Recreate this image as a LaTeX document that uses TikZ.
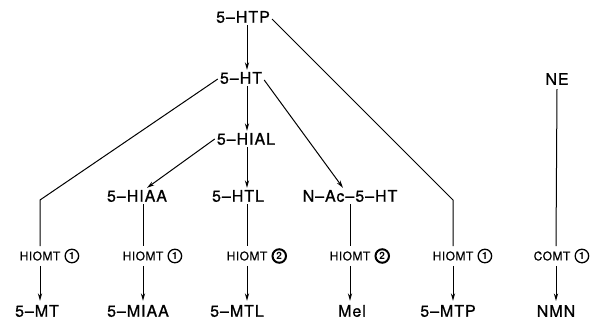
\documentclass[tikz,border=0pt]{standalone}
\usepackage{fontspec}
\setmainfont{TeX Gyre Heros}[LetterSpace=6,FakeBold=0.8]
\newfontfamily\labfont{TeX Gyre Heros}[LetterSpace=4,FakeBold=0.6]
\newfontfamily\numfont{TeX Gyre Heros}
\usetikzlibrary{arrows.meta}
\begin{document}
\begin{tikzpicture}[x=1pt,y=-1pt,
  chem/.style={font=\fontsize{16}{18}\selectfont, inner sep=2pt},
  chemb/.style={font=\fontsize{16}{18}\selectfont, inner sep=4pt},
  enz/.style={font=\labfont\fontsize{12}{14}\selectfont, inner sep=5pt},
  num/.style={circle, draw, line width=1.3pt, minimum size=13.5pt, inner sep=0pt, font=\numfont\fontsize{10}{10}\selectfont\bfseries},
  numb/.style={num, line width=2pt},
  conn/.style={line width=1pt},
  arr/.style={conn, -{Stealth[length=7.5pt,width=4.2pt]}}]
\useasboundingbox (0,0) rectangle (598,325);
% upper metabolites
\node[chem] (htp) at (243,17) {5–HTP};
\node[chem] (ht) at (241,78) {5–HT};
\node[chem] (hial) at (246,139) {5–HIAL};
\node[chem] (hiaa) at (137,196) {5–HIAA};
\node[chem] (htl) at (238,196) {5–HTL};
\node[chem] (nac) at (350,196) {N–Ac–5–HT};
\node[chem] (ne) at (557,79) {NE};
% enzymes
\node[enz] (e1) at (40,256) {HIOMT};
\node[enz] (e2) at (143,256) {HIOMT};
\node[enz] (e3) at (247,256) {HIOMT};
\node[enz] (e4) at (350,256) {HIOMT};
\node[enz] (e5) at (453,256) {HIOMT};
\node[enz] (e6) at (552,256) {COMT};
\node[num,anchor=west] (n1) at ([xshift=-1pt]e1.east) {1};
\node[num,anchor=west] (n2) at ([xshift=-1pt]e2.east) {1};
\node[numb,anchor=west] (n3) at ([xshift=-1pt]e3.east) {2};
\node[numb,anchor=west] (n4) at ([xshift=-1pt]e4.east) {2};
\node[num,anchor=west] (n5) at ([xshift=-1pt]e5.east) {1};
\node[num,anchor=west] (n6) at ([xshift=-1pt]e6.east) {1};
% products
\node[chemb] (mt) at (37,311) {5–MT};
\node[chemb] (miaa) at (138,311) {5–MIAA};
\node[chemb] (mtl) at (237,311) {5–MTL};
\node[chemb] (mel) at (352,311) {Mel};
\node[chemb] (mtp) at (448,311) {5–MTP};
\node[chemb] (nmn) at (556,311) {NMN};
% bends
\coordinate (b1) at (40,200);
\coordinate (b5) at (453,200);
% connectors
\draw[arr] ([xshift=4pt]htp.south) -- ([xshift=6pt]ht.north);
\draw[conn] ([yshift=-2pt]htp.east) -- (b5) -- (e5.north);
\draw[conn] ([yshift=-1pt]ht.west) -- (b1) -- (e1.north);
\draw[arr] ([xshift=6pt]ht.south) -- ([xshift=1pt]hial.north);
\draw[arr] ([yshift=-2pt]ht.east) -- ([xshift=-7pt]nac.north);
\draw[arr] (hial.west) -- ([xshift=10pt]hiaa.north);
\draw[arr] ([xshift=1pt]hial.south) -- ([xshift=9pt]htl.north);
\draw[conn] ([xshift=6pt]hiaa.south) -- (e2.north);
\draw[conn] ([xshift=9pt]htl.south) -- (e3.north);
\draw[conn] (nac.south) -- (e4.north);
\draw[conn] ([yshift=-2pt]ne.south) -- ([xshift=4pt]e6.north);
\draw[arr] (e1.south) -- ([xshift=3pt]mt.north);
\draw[arr] (e2.south) -- ([xshift=5pt]miaa.north);
\draw[arr] (e3.south) -- ([xshift=10pt]mtl.north);
\draw[arr] (e4.south) -- ([xshift=-2pt]mel.north);
\draw[arr] (e5.south) -- ([xshift=5pt]mtp.north);
\draw[arr] ([xshift=4pt]e6.south) -- (nmn.north);
\end{tikzpicture}
\end{document}
